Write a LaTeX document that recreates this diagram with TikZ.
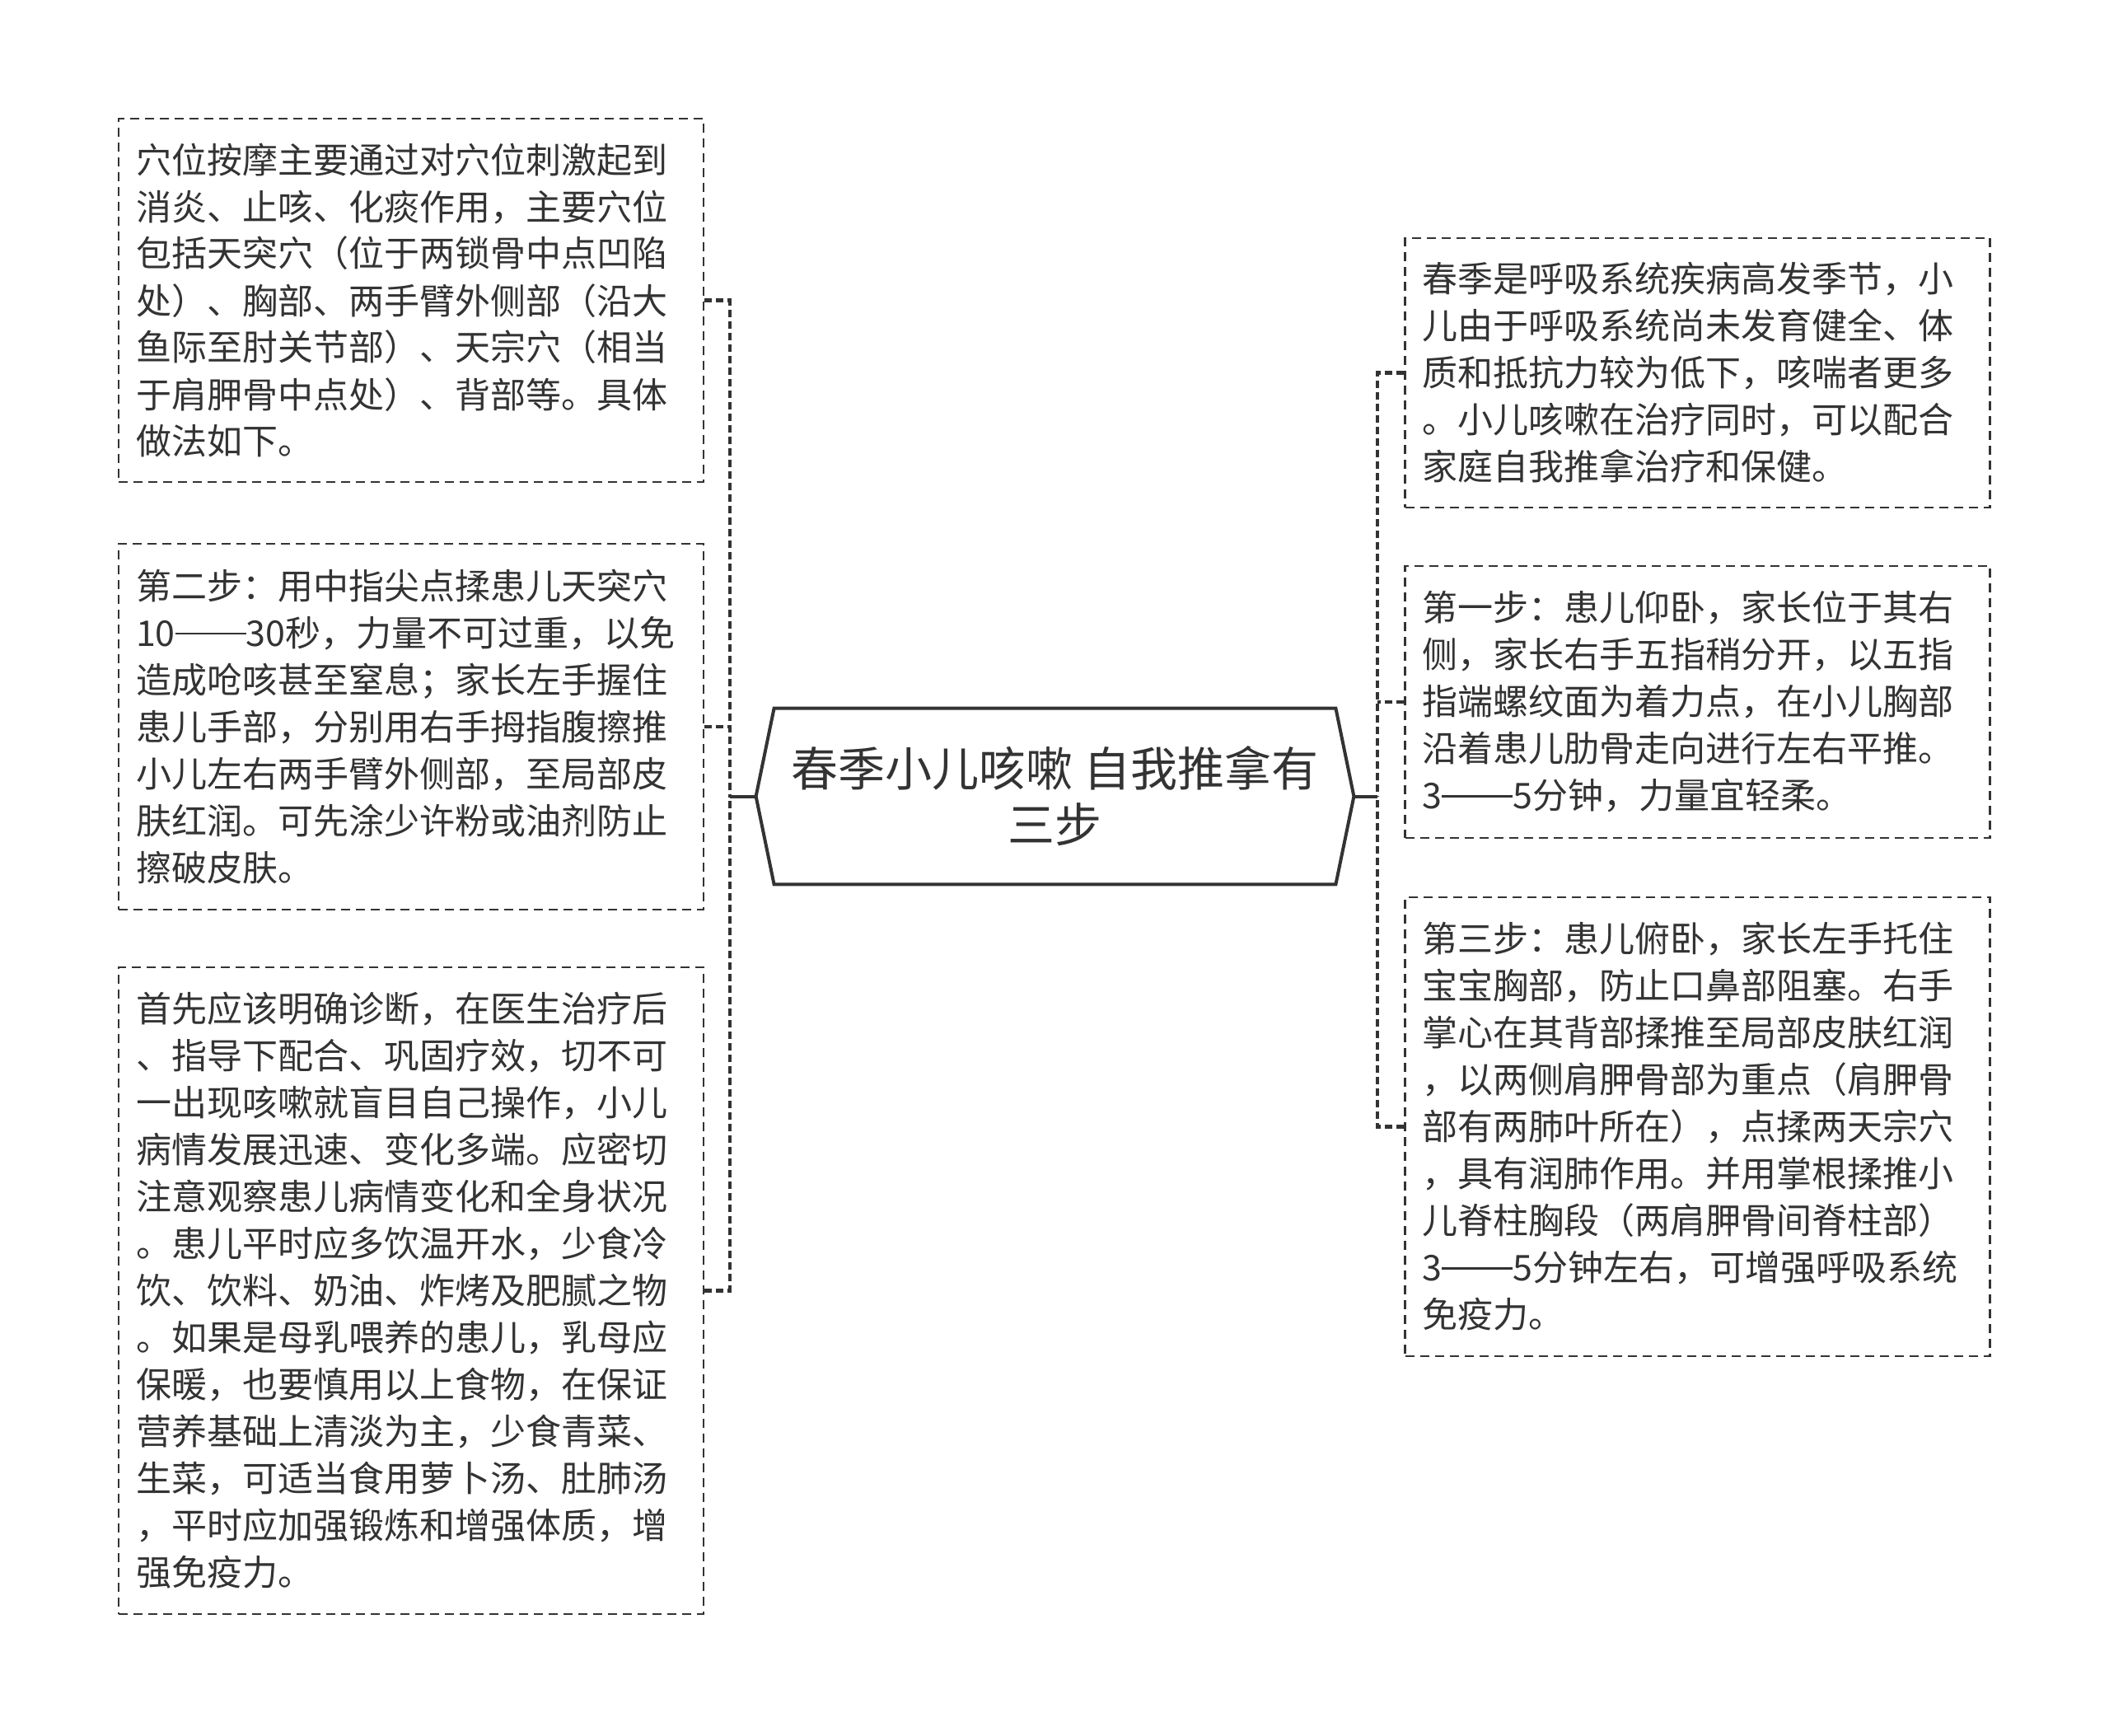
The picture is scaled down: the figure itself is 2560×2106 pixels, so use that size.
\documentclass[tikz,border=0pt]{standalone}
\usepackage{fontspec}
\setmainfont{Noto Sans CJK SC}
\definecolor{inkgray}{HTML}{333333}
\definecolor{linegray}{HTML}{333333}
\usetikzlibrary{calc}
\newcommand{\stepdash}{\rule[0.33em]{2em}{0.06em}}
\tikzset{
  note/.style={
    draw=linegray, line width=1.1pt, dash pattern=on 5.5pt off 3.5pt,
    minimum width=355pt, minimum height=#1, text width=334pt,
    inner xsep=10.5pt, align=left, text=inkgray,
    font=\fontsize{21.5pt}{28.5pt}\selectfont
  },
  note/.default=100pt,
  title/.style={
    minimum width=340.5pt, minimum height=106.5pt, align=center,
    text=inkgray, font=\fontsize{28.5pt}{34pt}\selectfont
  },
  titleline/.style={draw=linegray, line width=2pt, line join=miter},
  stem/.style={draw=linegray, line width=2pt},
  trunk/.style={draw=linegray, line width=2.4pt, dash pattern=on 4.5pt off 2.5pt},
}

\begin{document}
\begin{tikzpicture}[x=0.5pt, y=-0.5pt]
  \path[use as bounding box, fill=white] (0,0) rectangle (2560,2106);

  % Centre
  \node[title] (title) at (1280.5,966.5) {春季小儿咳嗽 自我推拿有\\三步};
  \coordinate (titleL) at ([xshift=-11pt]title.west);
  \coordinate (titleR) at ([xshift=11pt]title.east);
  \draw[titleline] (title.north west) -- (title.north east) -- (titleR)
    -- (title.south east) -- (title.south west) -- (titleL) -- cycle;

  % Left branch
  \node[note=220.5pt] (massage) at (499,364.5) {穴位按摩主要通过对穴位刺激起到\\
消炎、止咳、化痰作用，主要穴位\\
包括天突穴（位于两锁骨中点凹陷\\
处）、胸部、两手臂外侧部（沿大\\
鱼际至肘关节部）、天宗穴（相当\\
于肩胛骨中点处）、背部等。具体\\
做法如下。};
  \node[note=222pt] (step2) at (499,882) {第二步：用中指尖点揉患儿天突穴\\
10\stepdash30秒，力量不可过重，以免\\
造成呛咳甚至窒息；家长左手握住\\
患儿手部，分别用右手拇指腹擦推\\
小儿左右两手臂外侧部，至局部皮\\
肤红润。可先涂少许粉或油剂防止\\
擦破皮肤。};
  \node[note=392.5pt] (advice) at (499,1566.5) {首先应该明确诊断，在医生治疗后\\
、指导下配合、巩固疗效，切不可\\
一出现咳嗽就盲目自己操作，小儿\\
病情发展迅速、变化多端。应密切\\
注意观察患儿病情变化和全身状况\\
。患儿平时应多饮温开水，少食冷\\
饮、饮料、奶油、炸烤及肥腻之物\\
。如果是母乳喂养的患儿，乳母应\\
保暖，也要慎用以上食物，在保证\\
营养基础上清淡为主，少食青菜、\\
生菜，可适当食用萝卜汤、肚肺汤\\
，平时应加强锻炼和增强体质，增\\
强免疫力。};

  % Right branch
  \node[note=163.5pt] (intro) at (2060.5,452.5) {春季是呼吸系统疾病高发季节，小\\
儿由于呼吸系统尚未发育健全、体\\
质和抵抗力较为低下，咳喘者更多\\
。小儿咳嗽在治疗同时，可以配合\\
家庭自我推拿治疗和保健。};
  \node[note=165pt] (step1) at (2060.5,852) {第一步：患儿仰卧，家长位于其右\\
侧，家长右手五指稍分开，以五指\\
指端螺纹面为着力点，在小儿胸部\\
沿着患儿肋骨走向进行左右平推。\\
3\stepdash5分钟，力量宜轻柔。};
  \node[note=278.5pt] (step3) at (2060.5,1367.5) {第三步：患儿俯卧，家长左手托住\\
宝宝胸部，防止口鼻部阻塞。右手\\
掌心在其背部揉推至局部皮肤红润\\
，以两侧肩胛骨部为重点（肩胛骨\\
部有两肺叶所在），点揉两天宗穴\\
，具有润肺作用。并用掌根揉推小\\
儿脊柱胸段（两肩胛骨间脊柱部）\\
3\stepdash5分钟左右，可增强呼吸系统\\
免疫力。};

  % Connectors
  \coordinate (ltrunk) at (886,966.5);
  \coordinate (rtrunk) at (1672,966.5);
  \draw[stem] (titleL) -- (ltrunk);
  \draw[stem] (titleR) -- (rtrunk);
  \draw[trunk] (massage.east) -| (ltrunk);
  \draw[trunk] (advice.east) -| (ltrunk);
  \draw[trunk] (step2.east) -- (step2.east -| ltrunk);
  \draw[trunk] (intro.west) -| (rtrunk);
  \draw[trunk] (step3.west) -| (rtrunk);
  \draw[trunk] (step1.west) -- (step1.west -| rtrunk);
\end{tikzpicture}
\end{document}
